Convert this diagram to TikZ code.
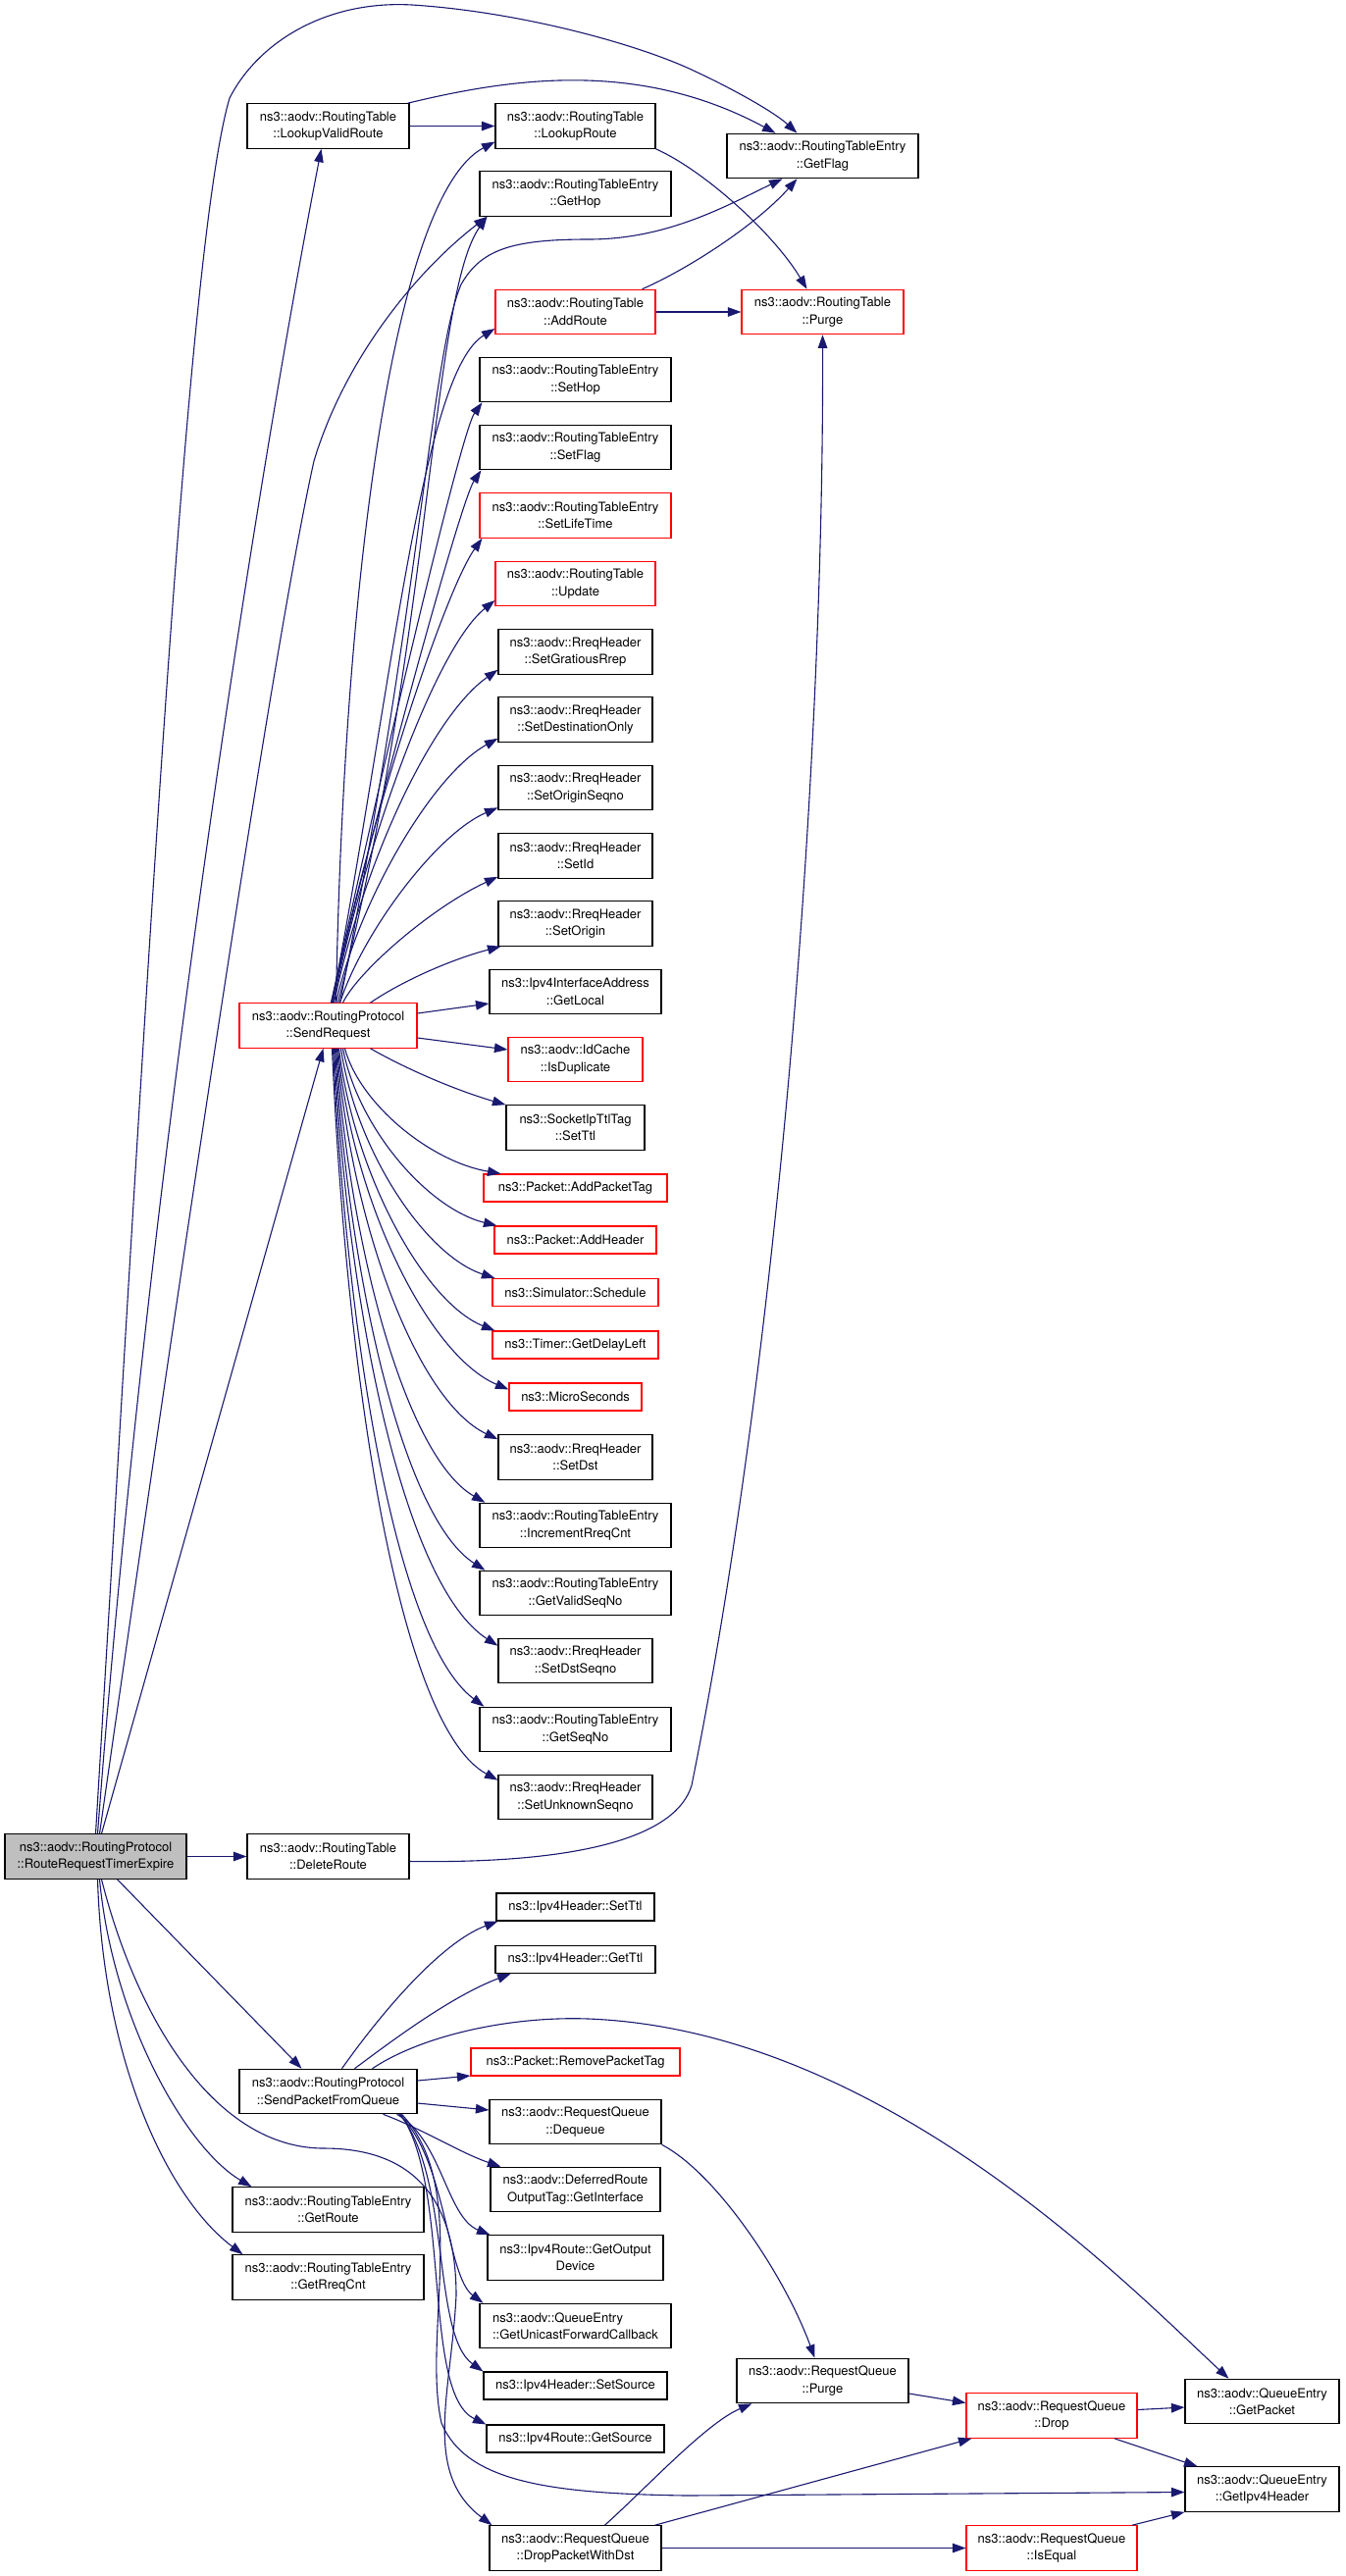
\documentclass[tikz,border=0pt]{standalone}
\usepackage{fontspec}
\setmainfont{TeX Gyre Heros}
\usetikzlibrary{calc,arrows.meta}
\definecolor{edge}{HTML}{191970}
\definecolor{rootgray}{HTML}{BFBFBF}
\newcommand\dxfont{\fontsize{13}{17.4}\selectfont}
\tikzset{
  fn/.style={draw=black, fill=white, line width=1.1pt, inner sep=0pt, minimum height=45.5pt, align=center, font=\dxfont},
  fnred/.style={fn, draw=red},
  fnroot/.style={fn, fill=rootgray},
  one/.style={minimum height=28pt},
  call/.style={draw=edge, line width=1.1pt, -{Triangle[length=13.5pt,width=9.5pt]}},
}

\begin{document}
\begin{tikzpicture}[x=1pt,y=-1pt]
  \useasboundingbox (0,0) rectangle (1371,2626);

  % callers
  \node[fnroot, minimum width=185pt] (rrte) at (97.5,1892.5) {ns3::aodv::RoutingProtocol\\::RouteRequestTimerExpire};
  \node[fn, minimum width=165pt] (lvr) at (334.5,128.5) {ns3::aodv::RoutingTable\\::LookupValidRoute};
  \node[fnred, minimum width=181pt] (sendreq) at (334.5,1045.5) {ns3::aodv::RoutingProtocol\\::SendRequest};
  \node[fn, minimum width=165pt] (delroute) at (334.5,1892.5) {ns3::aodv::RoutingTable\\::DeleteRoute};
  \node[fn, minimum width=181pt] (spfq) at (334.5,2132) {ns3::aodv::RoutingProtocol\\::SendPacketFromQueue};
  \node[fn, minimum width=195pt] (getroute) at (334.5,2252.5) {ns3::aodv::RoutingTableEntry\\::GetRoute};
  \node[fn, minimum width=195pt] (getrreq) at (334.5,2321.5) {ns3::aodv::RoutingTableEntry\\::GetRreqCnt};

  % middle column
  \node[fn, minimum width=163pt] (lookup) at (586.5,128.5) {ns3::aodv::RoutingTable\\::LookupRoute};
  \node[fn, minimum width=195pt] (gethop) at (586.5,197.5) {ns3::aodv::RoutingTableEntry\\::GetHop};
  \node[fnred, minimum width=163pt] (addroute) at (586.5,318) {ns3::aodv::RoutingTable\\::AddRoute};
  \node[fn, minimum width=195pt] (sethop) at (586.5,387) {ns3::aodv::RoutingTableEntry\\::SetHop};
  \node[fn, minimum width=195pt] (setflag) at (586.5,456) {ns3::aodv::RoutingTableEntry\\::SetFlag};
  \node[fnred, minimum width=195pt] (setlife) at (586.5,525.5) {ns3::aodv::RoutingTableEntry\\::SetLifeTime};
  \node[fnred, minimum width=163pt] (update) at (586.5,595) {ns3::aodv::RoutingTable\\::Update};
  \node[fn, minimum width=157pt] (setgrat) at (586.5,664.5) {ns3::aodv::RreqHeader\\::SetGratiousRrep};
  \node[fn, minimum width=157pt] (setdest) at (586.5,733.5) {ns3::aodv::RreqHeader\\::SetDestinationOnly};
  \node[fn, minimum width=157pt] (setoseq) at (586.5,803) {ns3::aodv::RreqHeader\\::SetOriginSeqno};
  \node[fn, minimum width=157pt] (setid) at (586.5,872.5) {ns3::aodv::RreqHeader\\::SetId};
  \node[fn, minimum width=157pt] (setorig) at (586.5,941.5) {ns3::aodv::RreqHeader\\::SetOrigin};
  \node[fn, minimum width=175pt] (getlocal) at (586.5,1011) {ns3::Ipv4InterfaceAddress\\::GetLocal};
  \node[fnred, minimum width=137pt] (isdup) at (586.5,1080) {ns3::aodv::IdCache\\::IsDuplicate};
  \node[fn, minimum width=141pt] (sockttl) at (586.5,1149.5) {ns3::SocketIpTtlTag\\::SetTtl};
  \node[fnred, one, minimum width=187pt] (addpkt) at (586.5,1211) {ns3::Packet::AddPacketTag};
  \node[fnred, one, minimum width=165pt] (addhdr) at (586.5,1264) {ns3::Packet::AddHeader};
  \node[fnred, one, minimum width=169pt] (sched) at (586.5,1317.5) {ns3::Simulator::Schedule};
  \node[fnred, one, minimum width=169pt] (delay) at (586.5,1371) {ns3::Timer::GetDelayLeft};
  \node[fnred, one, minimum width=135pt] (micro) at (586.5,1424) {ns3::MicroSeconds};
  \node[fn, minimum width=157pt] (setdst) at (586.5,1485.5) {ns3::aodv::RreqHeader\\::SetDst};
  \node[fn, minimum width=195pt] (incr) at (586.5,1555) {ns3::aodv::RoutingTableEntry\\::IncrementRreqCnt};
  \node[fn, minimum width=195pt] (validseq) at (586.5,1624) {ns3::aodv::RoutingTableEntry\\::GetValidSeqNo};
  \node[fn, minimum width=157pt] (dstseq) at (586.5,1693) {ns3::aodv::RreqHeader\\::SetDstSeqno};
  \node[fn, minimum width=195pt] (getseq) at (586.5,1763) {ns3::aodv::RoutingTableEntry\\::GetSeqNo};
  \node[fn, minimum width=157pt] (unkseq) at (586.5,1832) {ns3::aodv::RreqHeader\\::SetUnknownSeqno};
  \node[fn, one, minimum width=161pt] (ipsetttl) at (586.5,1944) {ns3::Ipv4Header::SetTtl};
  \node[fn, one, minimum width=163pt] (ipgetttl) at (586.5,1997.5) {ns3::Ipv4Header::GetTtl};
  \node[fnred, one, minimum width=213pt] (rmtag) at (586.5,2102) {ns3::Packet::RemovePacketTag};
  \node[fn, minimum width=175pt] (dequeue) at (586.5,2163) {ns3::aodv::RequestQueue\\::Dequeue};
  \node[fn, minimum width=173pt] (defroute) at (586.5,2232) {ns3::aodv::DeferredRoute\\OutputTag::GetInterface};
  \node[fn, minimum width=179pt] (outdev) at (586.5,2301.5) {ns3::Ipv4Route::GetOutput\\Device};
  \node[fn, align=left, minimum width=195pt] (ucb) at (586.5,2371) {ns3::aodv::QueueEntry\\::GetUnicastForwardCallback};
  \node[fn, one, minimum width=187pt] (setsrc) at (586.5,2432) {ns3::Ipv4Header::SetSource};
  \node[fn, one, minimum width=181pt] (getsrc) at (586.5,2486) {ns3::Ipv4Route::GetSource};
  \node[fn, minimum width=175pt] (dpwd) at (586.5,2597.5) {ns3::aodv::RequestQueue\\::DropPacketWithDst};

  % right columns
  \node[fn, minimum width=195pt] (getflag) at (838.5,159) {ns3::aodv::RoutingTableEntry\\::GetFlag};
  \node[fnred, minimum width=165pt] (purgert) at (838.5,318) {ns3::aodv::RoutingTable\\::Purge};
  \node[fn, minimum width=175pt] (rqpurge) at (838.5,2427) {ns3::aodv::RequestQueue\\::Purge};
  \node[fnred, minimum width=174pt] (drop) at (1072,2462.5) {ns3::aodv::RequestQueue\\::Drop};
  \node[fnred, minimum width=174pt] (isequal) at (1072,2597.5) {ns3::aodv::RequestQueue\\::IsEqual};
  \node[fn, minimum width=157pt] (getpkt) at (1286.5,2448) {ns3::aodv::QueueEntry\\::GetPacket};
  \node[fn, minimum width=157pt] (getip4) at (1286.5,2537.5) {ns3::aodv::QueueEntry\\::GetIpv4Header};

  % RouteRequestTimerExpire
  \draw[call] (rrte.north) .. controls (150,1000) and (190,250) .. (234,100) .. controls (262,45) and (330,0) .. (420,5) .. controls (530,12) and (650,45) .. (707,72) .. controls (750,92) and (790,115) .. ([xshift=-26]getflag.north);
  \draw[call] ([xshift=2]rrte.north) .. controls (150,1200) and (260,500) .. ([xshift=-7]lvr.south);
  \draw[call] ([xshift=4]rrte.north) .. controls (190,1250) and (280,650) .. (320,470) .. controls (350,370) and (420,280) .. ([xshift=-90]gethop.south);
  \draw[call] ([xshift=6]rrte.north) -- ([xshift=-5]sendreq.south);
  \draw[call] (rrte.east) -- (delroute.west);
  \draw[call] ([xshift=22]rrte.south) -- ([xshift=-27]spfq.north);
  \draw[call] ([xshift=4]rrte.south) .. controls (115,2060) and (190,2190) .. ([xshift=-78]getroute.north);
  \draw[call] ([xshift=2]rrte.south) .. controls (105,2100) and (170,2240) .. ([xshift=-87]getrreq.north);
  \draw[call] ([xshift=6]rrte.south) .. controls (140,2060) and (220,2190) .. (330,2190) .. controls (420,2190) and (465,2240) .. (465,2340) .. controls (460,2440) and (430,2520) .. ([xshift=3]dpwd.north west);

  % SendRequest
  \draw[call] ([xshift=8]sendreq.north) .. controls (350,600) and (400,200) .. ([yshift=-16]lookup.west);
  \draw[call] ([xshift=10]sendreq.north) .. controls (440,650) and (440,300) .. ([xshift=-90]gethop.south);
  \draw[call] ([xshift=12]sendreq.north) .. controls (430,600) and (440,360) .. (470,290) .. controls (490,255) and (520,244) .. (600,244) .. controls (680,244) and (740,210) .. ([xshift=-41]getflag.south);
  \draw[call] ([xshift=4]sendreq.north) .. controls (400,700) and (430,380) .. ([yshift=-17]addroute.west);
  \draw[call] ([xshift=3]sendreq.north) .. controls (390,780) and (470,440) .. ([xshift=3]sethop.south west);
  \draw[call] ([xshift=3]sendreq.north) .. controls (390,800) and (470,510) .. ([xshift=2]setflag.south west);
  \draw[call] ([xshift=4]sendreq.north) .. controls (380,820) and (455,600) .. ([xshift=3]setlife.south west);
  \draw[call] ([xshift=5]sendreq.north) .. controls (375,850) and (445,660) .. ([yshift=-17]update.west);
  \draw[call] ([xshift=6]sendreq.north) .. controls (370,880) and (440,730) .. ([yshift=5]setgrat.south west);
  \draw[call] ([xshift=8]sendreq.north) .. controls (365,920) and (440,790) .. ([yshift=4]setdest.south west);
  \draw[call] ([xshift=12]sendreq.north) .. controls (370,950) and (445,850) .. ([yshift=3]setoseq.south west);
  \draw[call] ([xshift=15]sendreq.north) .. controls (365,990) and (440,925) .. ([yshift=2]setid.south west);
  \draw[call] ([xshift=43]sendreq.north) .. controls (410,1000) and (460,978) .. ([xshift=3]setorig.south west);
  \draw[call] ([yshift=12.5]sendreq.east) -- ([yshift=-12]getlocal.west);
  \draw[call] ([yshift=-12.5]sendreq.east) -- ([yshift=10]isdup.west);
  \draw[call] ([xshift=43]sendreq.south) .. controls (420,1093) and (470,1113) .. (sockttl.north west);
  \draw[call] ([xshift=17]sendreq.south) .. controls (367,1126) and (439,1184) .. ([xshift=-76]addpkt.north);
  \draw[call] ([xshift=15]sendreq.south) .. controls (365,1150) and (436,1232) .. ([xshift=3]addhdr.north west);
  \draw[call] ([xshift=13]sendreq.south) .. controls (363,1174) and (434,1280) .. ([xshift=3]sched.north west);
  \draw[call] ([xshift=11]sendreq.south) .. controls (361,1198) and (433,1328) .. ([xshift=3]delay.north west);
  \draw[call] ([xshift=10]sendreq.south) .. controls (359,1225) and (437,1382) .. ([yshift=-7]micro.north west);
  \draw[call] ([xshift=9]sendreq.south) .. controls (358,1248) and (425,1428) .. ([yshift=-5]setdst.north west);
  \draw[call] ([xshift=8]sendreq.south) .. controls (357,1277) and (415,1486) .. ([xshift=6]incr.north west);
  \draw[call] ([xshift=7]sendreq.south) .. controls (356,1308) and (412,1548) .. ([xshift=6]validseq.north west);
  \draw[call] ([xshift=6]sendreq.south) .. controls (355,1342) and (413,1617) .. ([yshift=-8]dstseq.north west);
  \draw[call] ([xshift=5]sendreq.south) .. controls (354,1370) and (404,1673) .. ([xshift=5]getseq.north west);
  \draw[call] ([xshift=4]sendreq.south) .. controls (353,1404) and (406,1759) .. ([yshift=-6]unkseq.north west);

  % routing table
  \draw[call] (lvr.east) -- (lookup.west);
  \draw[call] ([xshift=-2]lvr.north east) .. controls (520,80) and (650,60) .. ([xshift=-48]getflag.north);
  \draw[call] (lookup.south east) .. controls (720,175) and (790,240) .. ([xshift=-16]purgert.north);
  \draw[call] (addroute.east) -- (purgert.west);
  \draw[call] ([xshift=68]addroute.north) .. controls (700,275) and (770,230) .. ([xshift=-26]getflag.south);
  \draw[call] ([yshift=-5]delroute.east) .. controls (600,1900) and (690,1870) .. (705,1820) .. controls (790,1400) and (840,800) .. (purgert.south);

  % SendPacketFromQueue
  \draw[call] ([xshift=14]spfq.north) .. controls (390,2050) and (450,1980) .. ([xshift=2]ipsetttl.south west);
  \draw[call] ([xshift=27]spfq.north) .. controls (400,2080) and (460,2035) .. ([xshift=-66]ipgetttl.south);
  \draw[call] ([xshift=45]spfq.north) .. controls (430,2075) and (520,2055) .. (600,2058) .. controls (900,2070) and (1150,2330) .. ([xshift=-34]getpkt.north);
  \draw[call] ([yshift=11]spfq.east) -- ([yshift=-14]rmtag.west);
  \draw[call] ([yshift=-12]spfq.east) -- ([yshift=12]dequeue.west);
  \draw[call] ([xshift=56]spfq.south) .. controls (430,2170) and (470,2195) .. ([xshift=-76]defroute.north);
  \draw[call] ([xshift=70]spfq.south) .. controls (450,2180) and (455,2260) .. ([xshift=3]outdev.north west);
  \draw[call] ([xshift=72]spfq.south) .. controls (455,2200) and (455,2320) .. ([xshift=4]ucb.north west);
  \draw[call] ([xshift=73]spfq.south) .. controls (460,2220) and (440,2380) .. (setsrc.north west);
  \draw[call] ([xshift=74]spfq.south) .. controls (460,2230) and (430,2440) .. (getsrc.north west);
  \draw[call] ([xshift=75]spfq.south) .. controls (480,2230) and (430,2380) .. (450,2470) .. controls (475,2530) and (560,2542) .. (700,2544) -- ([yshift=-3]getip4.west);

  % request queue
  \draw[call] (dequeue.south east) .. controls (730,2215) and (800,2320) .. ([xshift=-8]rqpurge.north);
  \draw[call] ([xshift=30]dpwd.north) .. controls (660,2535) and (720,2470) .. ([xshift=16]rqpurge.south west);
  \draw[call] ([xshift=81]dpwd.north) -- ([xshift=6]drop.south west);
  \draw[call] (dpwd.east) -- (isequal.west);
  \draw[call] ([yshift=-13]rqpurge.east) -- ([yshift=13]drop.west);
  \draw[call] ([yshift=6]drop.east) -- ([yshift=-6]getpkt.west);
  \draw[call] ([xshift=64]drop.south) -- ([xshift=-66]getip4.north);
  \draw[call] ([xshift=82]isequal.north) -- (getip4.south west);
\end{tikzpicture}
\end{document}
